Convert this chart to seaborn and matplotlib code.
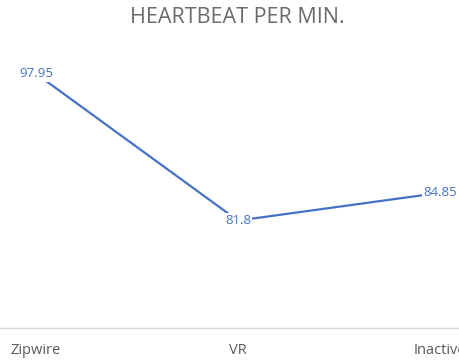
import seaborn as sns
import matplotlib.pyplot as plt
import pandas as pd

activities = ["Zipwire", "VR", "Inactive"]
heartbeat = [97.95, 81.8, 84.85]

df = pd.DataFrame({"activity": activities, "bpm": heartbeat})

sns.set_theme(style="white")
plt.rcParams["font.family"] = ["Open Sans", "DejaVu Sans"]

fig = plt.figure(figsize=(4.6, 3.64), dpi=100)
ax = fig.add_axes([0.0, 0.099, 1.0, 0.75])

sns.lineplot(data=df, x="activity", y="bpm", ax=ax, color="#4472C4", linewidth=1.6, sort=False)

# data labels sit on the points, with a white box like Excel
for i, v in enumerate(heartbeat):
    ax.text(i, v, str(v), ha="center", va="center", fontsize=9.5, color="#4472C4",
            bbox=dict(facecolor="white", edgecolor="none", pad=1.0))

ax.set_xlim(-0.178, 2.099)
ax.set_ylim(70, 100)
ax.set_xlabel("")
ax.set_ylabel("")
ax.set_yticks([])
# the last label runs past the right edge, as in the cropped original
ax.tick_params(axis="x", length=0, pad=11, labelsize=10.5, labelcolor="#595959")
for side in ["left", "right", "top"]:
    ax.spines[side].set_visible(False)
ax.spines["bottom"].set_color("#D9D9D9")
ax.spines["bottom"].set_linewidth(1)

fig.text(0.517, 0.953, "HEARTBEAT PER MIN.", ha="center", va="center", fontsize=15.5,
         color="#6b6b6b")

plt.savefig("out.png", dpi=100)
